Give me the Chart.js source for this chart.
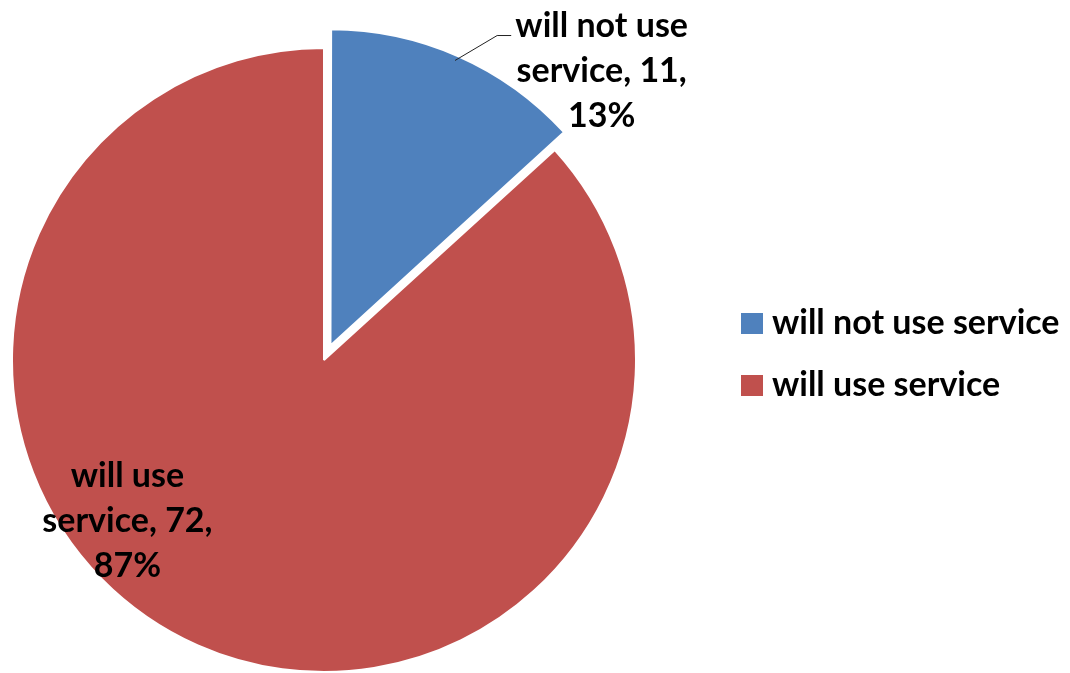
<!DOCTYPE html>
<html>
<head>
<meta charset="utf-8">
<script src="https://cdn.jsdelivr.net/npm/chart.js@4.4.1/dist/chart.umd.min.js"></script>
<style>
  html, body { margin: 0; padding: 0; background: #fff; overflow: hidden; }
  #wrap { width: 1070px; height: 673px; }
</style>
</head>
<body>
<div id="wrap"><canvas id="myChart" width="1070" height="673"></canvas></div>
<script>
const labels = ['will not use service', 'will use service']
const counts = [11, 72]
const colors = ['#4F81BD', '#C0504D']

const FONT = 'bold 34px Lato, "Open Sans", sans-serif'

const total = counts.reduce((a, b) => a + b, 0)
const percent = counts.map(c => Math.round(c / total * 100))

// slice labels: "name, count, pct%" split over three lines
const sliceLabels = {
  id: 'sliceLabels',
  afterDatasetsDraw(chart) {
    const ctx = chart.ctx
    const arc = chart.getDatasetMeta(0).data[0]
    const cx = arc.x
    const cy = arc.y
    const r = arc.outerRadius
    const spots = [
      { x: cx + r * 0.89, y: cy - r * 1.035, lines: ['will not use', 'service, ' + counts[0] + ',', percent[0] + '%'] },
      { x: cx - r * 0.63, y: cy + r * 0.408, lines: ['will use', 'service, ' + counts[1] + ',', percent[1] + '%'] }
    ]
    ctx.save()
    ctx.font = FONT
    ctx.fillStyle = '#000'
    ctx.textAlign = 'center'
    ctx.textBaseline = 'alphabetic'
    spots.forEach(s => {
      s.lines.forEach((t, i) => ctx.fillText(t, s.x, s.y + i * 45))
    })
    // leader line for the small slice
    ctx.strokeStyle = '#222'
    ctx.lineWidth = 1
    ctx.beginPath()
    ctx.moveTo(cx + r * 0.42, cy - r * 0.96)
    ctx.lineTo(cx + r * 0.555, cy - r * 1.04)
    ctx.lineTo(cx + r * 0.6, cy - r * 1.04)
    ctx.stroke()
    ctx.restore()
  }
}

// legend on the right
const sideLegend = {
  id: 'sideLegend',
  afterDraw(chart) {
    const ctx = chart.ctx
    ctx.save()
    ctx.font = FONT
    ctx.textBaseline = 'alphabetic'
    labels.forEach((name, i) => {
      const y = 334 + i * 62
      ctx.fillStyle = colors[i]
      ctx.fillRect(741, y - 21, 22, 21)
      ctx.fillStyle = '#000'
      ctx.fillText(name, 772, y)
    })
    ctx.restore()
  }
}

const ctx = document.getElementById('myChart')
new Chart(ctx, {
  type: 'pie',
  data: {
    labels: labels,
    datasets: [{
      data: counts,
      backgroundColor: colors,
      borderColor: '#fff',
      borderWidth: 2,
      offset: [64, 0],
      hoverOffset: 0,
      clip: false
    }]
  },
  options: {
    responsive: false,
    animation: false,
    radius: 312,
    events: [],
    layout: { padding: { left: 0, right: 422, top: 47, bottom: 0 } },
    plugins: {
      legend: { display: false },
      tooltip: { enabled: false }
    }
  },
  plugins: [sliceLabels, sideLegend]
})
</script>
</body>
</html>
